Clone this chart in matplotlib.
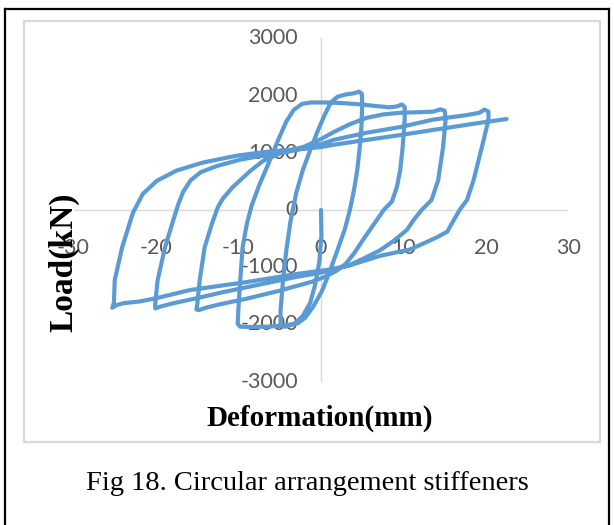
import matplotlib
matplotlib.use("Agg")
import matplotlib.pyplot as plt
from matplotlib.lines import Line2D
from matplotlib.patches import Rectangle

# hysteresis path (deformation mm, load kN), in loading order
disp_mm = [
    # first push to negative side
    0, 0.05, -0.2, -0.7, -1.3, -2.2, -3.2, -4.3, -4.9,
    # cycle 1 loading / unloading
    -4.9, -4.6, -4.2, -3.7, -3.0, -2.2, -1.3, -0.4, 0.5, 1.2, 2.0, 3.0, 4.0, 4.6, 4.95,
    5.0, 4.9, 4.7, 4.4, 4.0, 3.5, 2.9, 2.0, 1.0, 0.1, -0.9, -1.9, -2.8, -4.5, -6.5, -8.5, -9.8, -10.1,
    # cycle 2
    -10.0, -9.8, -9.5, -9.0, -8.4, -7.5, -6.4, -5.2, -4.2, -3.3, -2.3, -1.2, 0.5, 2.5, 4.5, 6.5, 8.3, 9.2, 9.8, 10.15,
    10.15, 9.9, 9.6, 9.2, 8.6, 7.6, 6.4, 5.1, 4.0, 3.0, 1.8, 0.4, -1.0, -3.0, -5.0, -7.0, -9.0, -11.0, -12.6, -14.0, -14.8, -15.1,
    # cycle 3
    -15.0, -14.7, -14.1, -13.2, -12.5, -11.9, -10.7, -8.6, -7.0, -5.3, -3.5, -2.0, 0, 1.5, 3.5, 5.5, 7.5, 9.6, 12.0, 13.6, 14.5, 15.0,
    15.1, 14.8, 14.2, 13.4, 12.2, 11.2, 10.4, 8.8, 7.2, 5.0, 3.5, 1.1, -1.0, -3.0, -6.0, -9.0, -12.0, -15.0, -17.9, -19.5, -20.1, -20.1,
    # cycle 4
    -19.8, -18.9, -17.9, -17.3, -16.7, -15.8, -14.6, -12.6, -9.8, -6.5, -4.0, -2.0, 0, 1.5, 5.5, 9.6, 13.6, 17.7, 19.2, 19.8, 20.3,
    20.3, 19.5, 18.5, 17.7, 16.8, 16.0, 15.3, 14.0, 12.8, 10.8, 7.2, 3.2, 1.1, -1.0, -3.0, -6.0, -9.0, -12.0, -15.9, -19.9, -22.0, -24.0, -24.9, -25.3, -25.1,
    # final loading
    -25.0, -24.1, -22.8, -21.6, -19.9, -17.5, -14.3, -10.2, -7.0, -4.5, -2.5, 0, 1.5, 5.5, 9.6, 13.6, 17.7, 20.0, 22.5,
]
load_kN = [
    0, -450, -900, -1300, -1620, -1850, -1990, -2040, -2030,
    -1750, -1225, -700, -200, 300, 700, 1050, 1380, 1680, 1880, 1980, 2020, 2040, 2070, 2030,
    1850, 1450, 1100, 700, 350, 0, -330, -700, -1100, -1420, -1680, -1880, -1980, -2020, -2040, -2045, -2040, -1990,
    -1700, -1250, -650, -250, 80, 430, 800, 1220, 1550, 1750, 1855, 1880, 1880, 1870, 1850, 1820, 1795, 1810, 1845, 1800,
    1600, 1100, 700, 400, 150, 0, -250, -520, -760, -940, -1070, -1170, -1250, -1330, -1410, -1480, -1550, -1610, -1660, -1710, -1750, -1740,
    -1650, -1225, -650, -230, 50, 200, 400, 680, 860, 970, 1050, 1110, 1240, 1360, 1500, 1610, 1670, 1700, 1710, 1720, 1760, 1735,
    1575, 1100, 520, 175, 0, -180, -350, -540, -700, -860, -960, -1060, -1120, -1170, -1260, -1350, -1440, -1540, -1630, -1690, -1720, -1650,
    -1225, -650, -175, 100, 320, 520, 660, 770, 880, 965, 1020, 1080, 1150, 1225, 1350, 1450, 1580, 1660, 1700, 1755, 1720,
    1575, 1100, 525, 175, 0, -200, -380, -480, -560, -690, -800, -980, -1040, -1080, -1120, -1190, -1260, -1320, -1400, -1540, -1600, -1630, -1670, -1710, -1620,
    -1225, -650, -50, 280, 510, 690, 830, 950, 1010, 1045, 1065, 1100, 1140, 1225, 1310, 1400, 1490, 1540, 1590,
]

x_ticks = [-30, -20, -10, 0, 10, 20, 30]
y_ticks = [-3000, -2000, -1000, 0, 1000, 2000, 3000]

W, H = 614, 525
fig = plt.figure(figsize=(W / 100, H / 100), dpi=100)
fig.patch.set_facecolor("white")

def fx(px):
    return px / W

def fy(py):
    return 1 - py / H

# outer black frame (open at the bottom)
for xs, ys in [([5, 5], [9, 525]), ([5, 609], [9, 9]), ([609, 609], [9, 525])]:
    fig.add_artist(Line2D([fx(v) for v in xs], [fy(v) for v in ys], color="black", lw=1.6))

# chart area border
fig.add_artist(Rectangle((fx(24), fy(442)), fx(600) - fx(24), fy(21) - fy(442),
                         fill=False, edgecolor="#d9d9d9", lw=1.6))

ax = fig.add_axes([fx(73.5), fy(381.6), fx(568.5) - fx(73.5), fy(38.4) - fy(381.6)])
ax.set_xlim(-30, 30)
ax.set_ylim(-3000, 3000)
ax.axis("off")

ax.plot([-30, 30], [0, 0], color="#d9d9d9", lw=1, zorder=1)
ax.plot([0, 0], [-3000, 3000], color="#d9d9d9", lw=1, zorder=1)

tick_font = dict(family="Lato", fontsize=15.5, color="#595959", zorder=2)
for t in x_ticks:
    ax.annotate(str(t), (t, 0), xytext=(0, -38 * 0.72), textcoords="offset points",
                ha="center", va="center", **tick_font)
for t in y_ticks:
    ax.annotate(str(t), (0, t), xytext=(-23 * 0.72, 0), textcoords="offset points",
                ha="right", va="center", **tick_font)

ax.plot(disp_mm, load_kN, color="#5b9bd5", lw=3.0, solid_joinstyle="round",
        solid_capstyle="round", zorder=3)

fig.text(fx(320), fy(418), "Deformation(mm)", family="Liberation Serif", weight="bold",
         fontsize=21, ha="center", va="center")
fig.text(fx(64), fy(262), "Load(kN)", family="Liberation Serif", weight="bold",
         fontsize=24, rotation=90, ha="center", va="center", zorder=5)
fig.text(fx(307), fy(484), "Fig 18. Circular arrangement stiffeners", family="Liberation Serif",
         fontsize=20.5, ha="center", va="center")

fig.savefig("out.png", dpi=100)
